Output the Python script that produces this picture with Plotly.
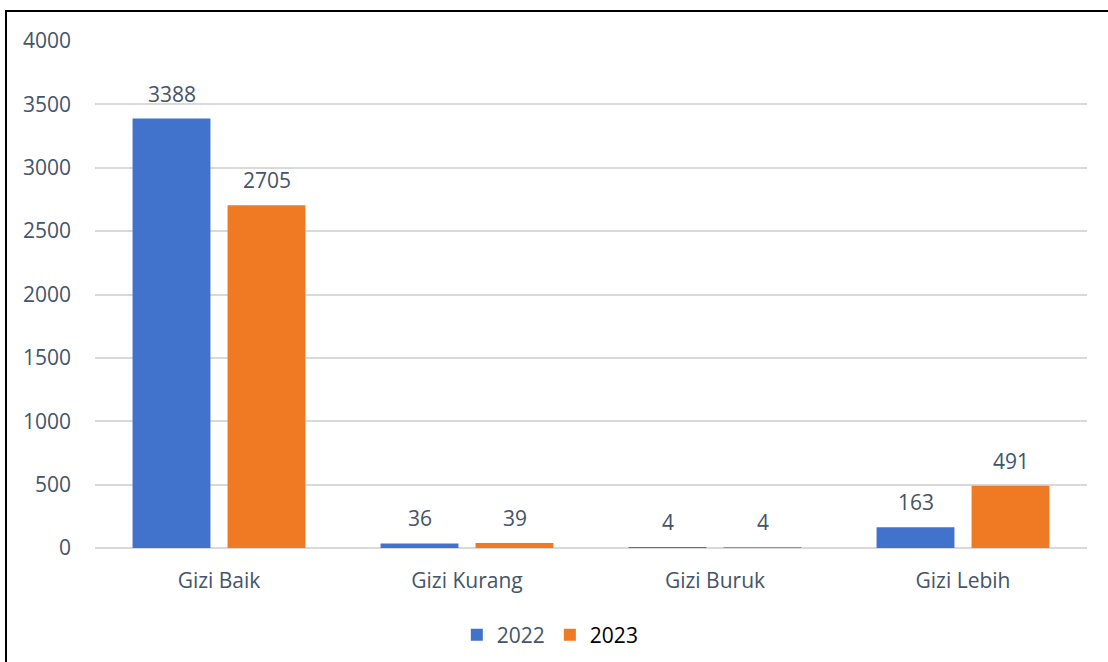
import plotly.graph_objects as go

categories = ["Gizi Baik", "Gizi Kurang", "Gizi Buruk", "Gizi Lebih"]
values_2022 = [3388, 36, 4, 163]
values_2023 = [2705, 39, 4, 491]
y_ticks = [0, 500, 1000, 1500, 2000, 2500, 3000, 3500, 4000]

TXT = "#44546A"
FONT = "Open Sans"
FS = 21

fig = go.Figure()
fig.add_trace(go.Bar(
    x=categories, y=values_2022, name="2022",
    marker=dict(color="#4172CC", line=dict(width=0)),
))
fig.add_trace(go.Bar(
    x=categories, y=values_2023, name="<span style='color:#000000'>2023</span>",
    marker=dict(color="#F07A24", line=dict(width=0)),
))

# data labels above bars (offset = half a bar slot)
annotations = []
for vals, xs in ((values_2022, -47.5), (values_2023, 47.5)):
    for c, v in zip(categories, vals):
        annotations.append(dict(x=c, y=v, xref="x", yref="y", text=str(v), showarrow=False,
                                xshift=xs, yshift=25, yanchor="middle",
                                font=dict(size=FS, color=TXT, family=FONT)))

fig.update_layout(
    width=1108, height=662,
    margin=dict(l=95, r=21, t=41, b=114, autoexpand=False),
    paper_bgcolor="white", plot_bgcolor="white",
    font=dict(family=FONT, color=TXT, size=FS),
    barmode="group", bargap=0.234, bargroupgap=0.18,
    showlegend=True,
    legend=dict(orientation="h", x=0.459, xanchor="center", y=-0.1716, yanchor="middle",
                font=dict(size=FS, color=TXT, family=FONT), itemwidth=30,
                tracegroupgap=0),
    xaxis=dict(showgrid=False, showline=False, ticks="", ticklabelstandoff=18,
               tickfont=dict(size=FS, color=TXT, family=FONT)),
    yaxis=dict(range=[0, 4000], tickvals=y_ticks, showgrid=True, gridcolor="#D9D9D9",
               gridwidth=1.5, zeroline=True, zerolinecolor="#D9D9D9", zerolinewidth=1.5,
               showline=False, ticks="", ticklabelstandoff=23,
               tickfont=dict(size=FS, color=TXT, family=FONT)),
    annotations=annotations,
    shapes=[dict(type="rect", xref="paper", yref="paper",
                 x0=(6 - 95) / 992, x1=1.2, y0=-0.5, y1=(548 - 11) / 507,
                 line=dict(color="black", width=2), fillcolor="rgba(0,0,0,0)", layer="above")],
)

fig.write_html("out.html", config={"displayModeBar": False},
               post_script="document.body.style.margin='0';")
